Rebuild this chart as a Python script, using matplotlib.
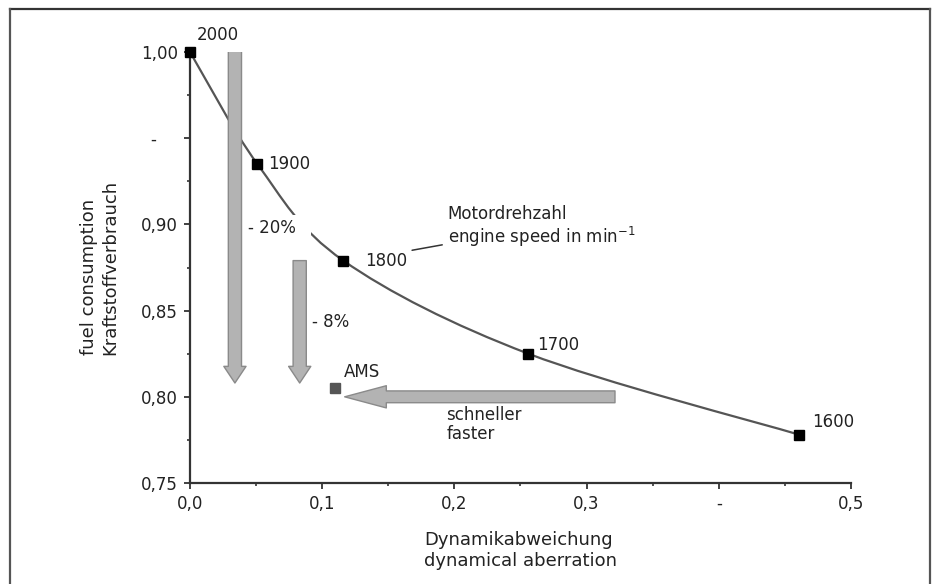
import numpy as np
import matplotlib.pyplot as plt
from matplotlib.path import Path
from matplotlib.patches import PathPatch, FancyArrowPatch
from matplotlib.lines import Line2D
from matplotlib.ticker import MultipleLocator

# engine speed points along the curve
speed = ['2000', '1900', '1800', '1700', '1600']
aberration = [0.0, 0.051, 0.116, 0.256, 0.461]
consumption = [1.0, 0.935, 0.879, 0.825, 0.778]

ams_x, ams_y = 0.110, 0.805

# reduction arrows (downward)
drop_x = [0.034, 0.083]
drop_top = [1.001, 0.879]
drop_tip = [0.808, 0.808]
drop_labels = ['- 20%  ', '- 8%']
drop_label_x = [0.044, 0.0925]
drop_label_y = [0.898, 0.8435]

# "faster" arrow
fast_start = (0.3215, 0.800)
fast_end = (0.117, 0.800)

xtick_vals = [0.0, 0.1, 0.2, 0.3, 0.4, 0.5]
xtick_labels = ['0,0', '0,1', '0,2', '0,3', '-', '0,5']
ytick_vals = [0.75, 0.80, 0.85, 0.90, 0.95, 1.00]
ytick_labels = ['0,75', '0,80', '0,85', '0,90', '-    ', '1,00']

plt.rcParams['font.family'] = 'DejaVu Sans'
txt = '#222222'

fig = plt.figure(figsize=(9.34, 5.84), dpi=100)
ax = fig.add_axes([0.2034, 0.1729, 0.7077, 0.7381])

# smooth curve through the points (Catmull-Rom as cubic Bezier)
pts = np.column_stack([aberration, consumption])
verts = [pts[0]]
codes = [Path.MOVETO]
n = len(pts)
for i in range(n - 1):
    p0 = pts[max(i - 1, 0)]
    p1 = pts[i]
    p2 = pts[i + 1]
    p3 = pts[min(i + 2, n - 1)]
    verts += [p1 + (p2 - p0) / 6, p2 - (p3 - p1) / 6, p2]
    codes += [Path.CURVE4] * 3
ax.add_patch(PathPatch(Path(verts, codes), fill=False, edgecolor='#555555',
                       lw=1.6, zorder=2))

ax.plot(aberration, consumption, ls='none', marker='s', ms=6.5,
        color='black', zorder=5, clip_on=False)
ax.plot([ams_x], [ams_y], ls='none', marker='s', ms=6.5, color='#555555',
        zorder=5)

offsets = [(5, 12), (8, 0), (16, 0), (6.5, 6), (9.5, 9.5)]
for s, x, y, off in zip(speed, aberration, consumption, offsets):
    ax.annotate(s, (x, y), xytext=off, textcoords='offset points',
                ha='left', va='center', fontsize=12, color=txt, zorder=6)
ax.annotate('AMS', (ams_x, ams_y), xytext=(6, 11.5), textcoords='offset points',
            ha='left', va='center', fontsize=12, color=txt, zorder=6)

# gray arrows
for x, top, tip in zip(drop_x, drop_top, drop_tip):
    ax.add_patch(FancyArrowPatch((x, top), (x, tip),
                                 arrowstyle='simple,head_length=12,head_width=16,tail_width=9.5',
                                 mutation_scale=1, shrinkA=0, shrinkB=0,
                                 fc='#b3b3b3', ec='#8a8a8a', lw=1, zorder=3))
ax.add_patch(FancyArrowPatch(fast_start, fast_end,
                             arrowstyle='simple,head_length=30,head_width=16,tail_width=8.5',
                             mutation_scale=1, shrinkA=0, shrinkB=0,
                             fc='#b3b3b3', ec='#8a8a8a', lw=1, zorder=3))

for lab, x, y in zip(drop_labels, drop_label_x, drop_label_y):
    ax.text(x, y, lab, ha='left', va='center', fontsize=12, color=txt, zorder=4,
            bbox=dict(boxstyle='square,pad=0.25', fc='white', ec='none'))

ax.annotate('Motordrehzahl\nengine speed in min$^{-1}$', (0.168, 0.885),
            xytext=(0.195, 0.8985), textcoords='data', ha='left', va='center',
            fontsize=12, color=txt, linespacing=1.15,
            arrowprops=dict(arrowstyle='-', color='#333333', lw=1.1,
                            shrinkA=2, shrinkB=0))
ax.text(0.194, 0.784, 'schneller\nfaster', ha='left', va='center',
        fontsize=12, color=txt, linespacing=1.1)

ax.set_xlim(0, 0.5)
ax.set_ylim(0.75, 1.0)
ax.set_xticks(xtick_vals)
ax.set_xticklabels(xtick_labels)
ax.set_yticks(ytick_vals)
ax.set_yticklabels(ytick_labels)
ax.xaxis.set_minor_locator(MultipleLocator(0.05))
ax.yaxis.set_minor_locator(MultipleLocator(0.025))
ax.tick_params(which='major', direction='out', length=4.5, width=1.3,
               labelsize=12, colors='#333333', labelcolor=txt, pad=4)
ax.tick_params(which='minor', direction='out', length=2.5, width=1.2,
               colors='#333333')
for side in ['top', 'right']:
    ax.spines[side].set_visible(False)
for side in ['left', 'bottom']:
    ax.spines[side].set_linewidth(1.6)
    ax.spines[side].set_color('#333333')

ax.set_xlabel('Dynamikabweichung\ndynamical aberration', fontsize=13,
              color=txt, labelpad=13, multialignment='left')
ax.set_ylabel('fuel consumption\nKraftstoffverbrauch', fontsize=13,
              color=txt, labelpad=16, multialignment='left')

# outer frame
x0, x1, yt = 10 / 934, 930 / 934, 1 - 9 / 584
fig.add_artist(Line2D([x0, x1], [yt, yt], transform=fig.transFigure,
                      color='#333333', lw=1.6))
fig.add_artist(Line2D([x0, x0], [0, yt], transform=fig.transFigure,
                      color='#555555', lw=1.6))
fig.add_artist(Line2D([x1, x1], [0, yt], transform=fig.transFigure,
                      color='#555555', lw=1.6))

fig.savefig('out.png', dpi=100, facecolor='white')
